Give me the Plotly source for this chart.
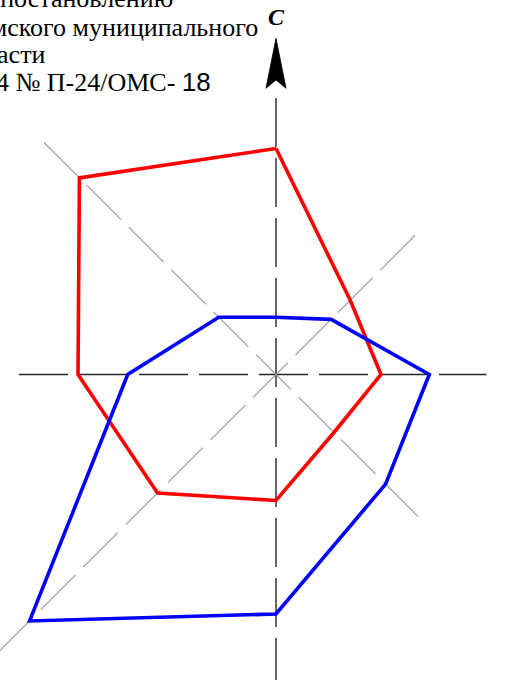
import numpy as np
import plotly.graph_objects as go

# ---- data -------------------------------------------------------------
directions = ["С", "СВ", "В", "ЮВ", "Ю", "ЮЗ", "З", "СЗ"]
angles_deg = [0, 45, 90, 135, 180, 225, 270, 315]
red_values = [22.6, 10.5, 10.5, 8.2, 12.6, 16.75, 19.8, 27.8]
blue_values = [5.72, 7.8, 15.33, 15.5, 23.95, 34.85, 14.83, 8.1]

# axis / guide line extents (in data units, from the centre)
axis_h = [-25.7, 21.05]
axis_v = [27.65, -30.55]
diag_nw_se = [23.2, 14.7]   # NW length, SE length
diag_ne_sw = [13.9, 30.0]   # NE length, SW length

header_lines = ["к постановлению", "Омского муниципального", "Омской области",
                "2024 № П-24/ОМС- <span style=\"font-family:'Liberation Sans'\">18</span>"]
north_label = "C"

# ---- figure -------------------------------------------------------------
W, H = 513, 690
XR = [-27.6, 23.7]
YR = [-31.55, 37.45]


def polar(vals):
    th = np.radians(angles_deg)
    v = np.asarray(vals)
    x = v * np.sin(th)
    y = v * np.cos(th)
    return np.append(x, x[0]), np.append(y, y[0])


fig = go.Figure()
dash = "49px,11px"
axis_col = "#262626"
diag_col = "#999999"

# horizontal and vertical axes
fig.add_trace(go.Scatter(x=axis_h, y=[0, 0], mode="lines",
                         line=dict(color=axis_col, width=1.4, dash=dash), hoverinfo="skip"))
fig.add_trace(go.Scatter(x=[0, 0], y=axis_v, mode="lines",
                         line=dict(color=axis_col, width=1.4, dash=dash), hoverinfo="skip"))
# diagonals
fig.add_trace(go.Scatter(x=[-diag_nw_se[0], diag_nw_se[1]],
                         y=[diag_nw_se[0], -diag_nw_se[1]], mode="lines",
                         line=dict(color=diag_col, width=1.1, dash=dash), hoverinfo="skip"))
fig.add_trace(go.Scatter(x=[diag_ne_sw[0], -diag_ne_sw[1]],
                         y=[diag_ne_sw[0], -diag_ne_sw[1]], mode="lines",
                         line=dict(color=diag_col, width=1.1, dash=dash), hoverinfo="skip"))

# wind rose polygons
rx, ry = polar(red_values)
fig.add_trace(go.Scatter(x=rx, y=ry, mode="lines",
                         line=dict(color="#ff0000", width=3.6), hoverinfo="skip"))
bx, by = polar(blue_values)
fig.add_trace(go.Scatter(x=bx, y=by, mode="lines",
                         line=dict(color="#0000ff", width=3.6), hoverinfo="skip"))

# north arrow head
tip, wing, notch, half = 33.62, 28.62, 29.45, 1.0
fig.add_trace(go.Scatter(x=[0, half, 0, -half, 0], y=[tip, wing, notch, wing, tip],
                         mode="lines", fill="toself", fillcolor="black",
                         line=dict(color="black", width=0.8), hoverinfo="skip"))


def pap_x(p):
    return p / W


def pap_y(p):
    return 1 - p / H


annotations = [
    dict(x=pap_x(276.3), y=pap_y(17.2), xref="paper", yref="paper",
         text="<b><i>" + north_label + "</i></b>", showarrow=False,
         xanchor="center", yanchor="middle",
         font=dict(family="Liberation Serif", size=24, color="black")),
]
FS = 26
right_ends = [175, 260, 47, 213]
baselines = [7.3, 36, 63.3, 90.7]
for txt, xe, bl in zip(header_lines, right_ends, baselines):
    annotations.append(dict(x=pap_x(xe), y=pap_y(bl - 0.3375 * FS), xref="paper", yref="paper",
                            text=txt, showarrow=False,
                            xanchor="right", yanchor="middle",
                            font=dict(family="Liberation Serif", size=FS, color="black")))

fig.update_layout(
    width=W, height=H,
    margin=dict(l=0, r=0, t=0, b=0, pad=0),
    paper_bgcolor="white", plot_bgcolor="white",
    showlegend=False,
    xaxis=dict(range=XR, visible=False, fixedrange=True),
    yaxis=dict(range=YR, visible=False, fixedrange=True),
    annotations=annotations,
)

fig.write_html("out.html", config={"displayModeBar": False},
               post_script="document.body.style.margin='0';document.body.style.padding='0';")
